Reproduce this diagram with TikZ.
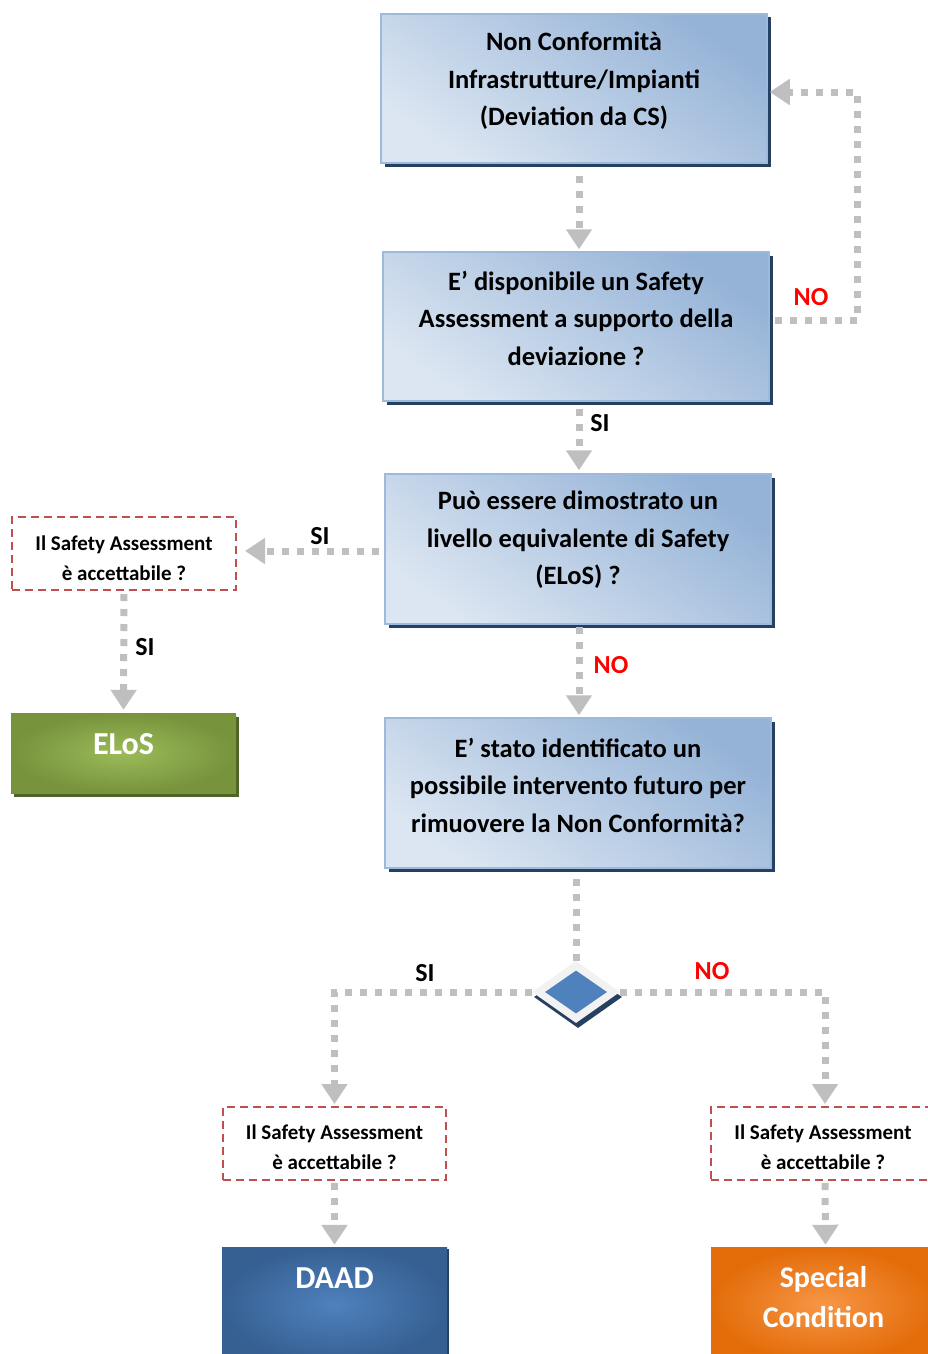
\documentclass[tikz,border=0pt]{standalone}
\usepackage{fontspec}
\setmainfont{Carlito}
\usetikzlibrary{arrows.meta,shadows,shapes.geometric}
\definecolor{blight}{HTML}{DCE6F2}
\definecolor{bdark}{HTML}{95B3D7}
\definecolor{bline}{HTML}{9DB9DC}
\definecolor{bshadow}{HTML}{254061}
\definecolor{cgray}{HTML}{BFBFBF}
\definecolor{dred}{HTML}{C0504D}
\definecolor{gin}{HTML}{9BBB59}
\definecolor{gout}{HTML}{77933C}
\definecolor{gshadow}{HTML}{4F6228}
\definecolor{din}{HTML}{4F81BD}
\definecolor{dout}{HTML}{366092}
\definecolor{oin}{HTML}{F79646}
\definecolor{oout}{HTML}{E36C09}
\definecolor{dgray}{HTML}{F2F2F2}
\definecolor{nored}{HTML}{FF0000}
\tikzset{
  bluebox/.style={draw=bline, line width=1.5pt, top color=bdark, bottom color=blight, shading angle=-35,
    minimum width=386pt, minimum height=149pt, inner sep=0pt,
    general shadow={fill=bshadow, shadow xshift=3.5pt, shadow yshift=-3.5pt}},
  boxtext/.style={font=\bfseries\fontsize{26.5}{37.5}\selectfont, align=center, inner sep=0pt},
  dbox/.style={draw=dred, line width=2pt, dash pattern=on 8pt off 5pt, minimum width=224pt, minimum height=73pt,
    inner sep=0pt},
  dtext/.style={inner sep=0pt, font=\bfseries\fontsize{21}{30}\selectfont, align=center},
  conn/.style={draw=cgray, line width=7pt, dash pattern=on 7pt off 8pt},
  arr/.style={conn, -{Triangle[width=25pt,length=20pt]}},
  lbl/.style={font=\bfseries\fontsize{26}{30}\selectfont, inner sep=0pt},
  nolbl/.style={lbl, text=nored},
  whitetext/.style={font=\bfseries\fontsize{32}{40}\selectfont, text=white, align=center, inner sep=0pt},
}
\begin{document}
\begin{tikzpicture}[x=1pt,y=-1pt]
\useasboundingbox (0,0) rectangle (928,1354);
\fill[white] (0,0) rectangle (928,1354);
\begin{scope}
\clip (0,0) rectangle (928,1354);
% main boxes
\node[bluebox] (b1) at (574,88.5) {};
\node[boxtext] (t1) at (574,81) {Non Conformità\\Infrastrutture/Impianti\\(Deviation da CS)};
\node[bluebox] (b2) at (576,326.5) {};
\node[boxtext] (t2) at (576,318) {E’ disponibile un Safety\\Assessment a supporto della\\deviazione ?};
\node[bluebox, minimum height=150pt] (b3) at (578,549) {};
\node[boxtext] (t3) at (578,540) {Può essere dimostrato un\\livello equivalente di Safety\\(ELoS) ?};
\node[bluebox, minimum height=150pt] (b4) at (578,793) {};
\node[boxtext] (t4) at (578,785) {E’ stato identificato un\\possibile intervento futuro per\\rimuovere la Non Conformità?};
% dashed boxes
\node[dbox] (dl) at (124,553.5) {};
\node[dtext] (dlt) at (124,558.5) {Il Safety Assessment\\è accettabile ?};
\node[dbox, minimum width=223pt] (dm) at (334.5,1143.5) {};
\node[dtext] (dmt) at (334.5,1147.5) {Il Safety Assessment\\è accettabile ?};
\node[dbox] (dr) at (823,1143.5) {};
\node[dtext] (drt) at (823,1147.5) {Il Safety Assessment\\è accettabile ?};
% result boxes
\node[minimum width=225pt, minimum height=80pt, inner sep=0pt, inner color=gin, outer color=gout,
  general shadow={fill=gshadow, shadow xshift=3pt, shadow yshift=-4pt}] (el) at (123.5,753) {};
\node[whitetext] (elt) at (123.5,744) {ELoS};
\node[minimum width=225pt, minimum height=115pt, inner sep=0pt, inner color=din, outer color=dout,
  general shadow={fill=bshadow, shadow xshift=2pt, shadow yshift=-2pt}] (daad) at (334.5,1304.5) {};
\node[whitetext] (daadt) at (334.5,1278) {DAAD};
\node[minimum width=225pt, minimum height=115pt, inner sep=0pt, inner color=oin, outer color=oout] (sc) at (823.5,1304.5) {};
\node[whitetext, font=\bfseries\fontsize{30}{40}\selectfont] (sct) at (823.5,1297) {Special\\Condition};
% diamond
\node[diamond, fill=dgray, minimum width=88pt, minimum height=62pt, inner sep=0pt,
  general shadow={fill=bshadow, shadow xshift=2pt, shadow yshift=-5pt}] (d) at (576,992) {};
\node[diamond, fill=din, minimum width=62pt, minimum height=43pt, inner sep=0pt] (di) at (576,992) {};
% connectors
\draw[arr, shorten <=12pt, shorten >=2pt] ([xshift=5pt]b1.south) -- ([xshift=3pt]b2.north);
\coordinate (lp) at (857,92);
\draw[arr, shorten <=5pt, shorten >=2pt] ([yshift=6pt]b2.east) -| (lp) -- ([yshift=-3.5pt]b1.east);
\draw[arr, shorten <=7pt, shorten >=3pt] ([xshift=3pt]b2.south) -- ([xshift=1pt]b3.north);
\coordinate (b3w) at ([yshift=-2pt]b3.west);
\draw[arr, shorten <=5pt, shorten >=8pt] (b3w) -- (dl.east |- b3w);
\draw[arr, shorten <=3pt, shorten >=3pt] (dl.south) -- (el.north);
\draw[arr, shorten <=2pt, shorten >=2pt] ([xshift=1pt]b3.south) -- ([xshift=1pt]b4.north);
\draw[conn, shorten <=10pt] (d.north |- b4.south) -- (d.north);
\draw[arr, shorten >=2pt] (d.west) -| (dm.north);
\draw[arr, shorten >=2pt] (d.east) -| ([xshift=2pt]dr.north);
\draw[arr, shorten <=2pt, shorten >=2pt] (dm.south) -- (daad.north);
\draw[arr, shorten <=2pt, shorten >=2pt] ([xshift=2pt]dr.south) -- ([xshift=2pt]sc.north);
% labels
\node[nolbl] (l1) at (811,297) {NO};
\node[lbl] (l2) at (600,423) {SI};
\node[lbl] (l3) at (320,536) {SI};
\node[lbl] (l4) at (145,647) {SI};
\node[nolbl] (l5) at (611,665) {NO};
\node[lbl] (l6) at (425,973) {SI};
\node[nolbl] (l7) at (712,971) {NO};
\end{scope}
\end{tikzpicture}
\end{document}
